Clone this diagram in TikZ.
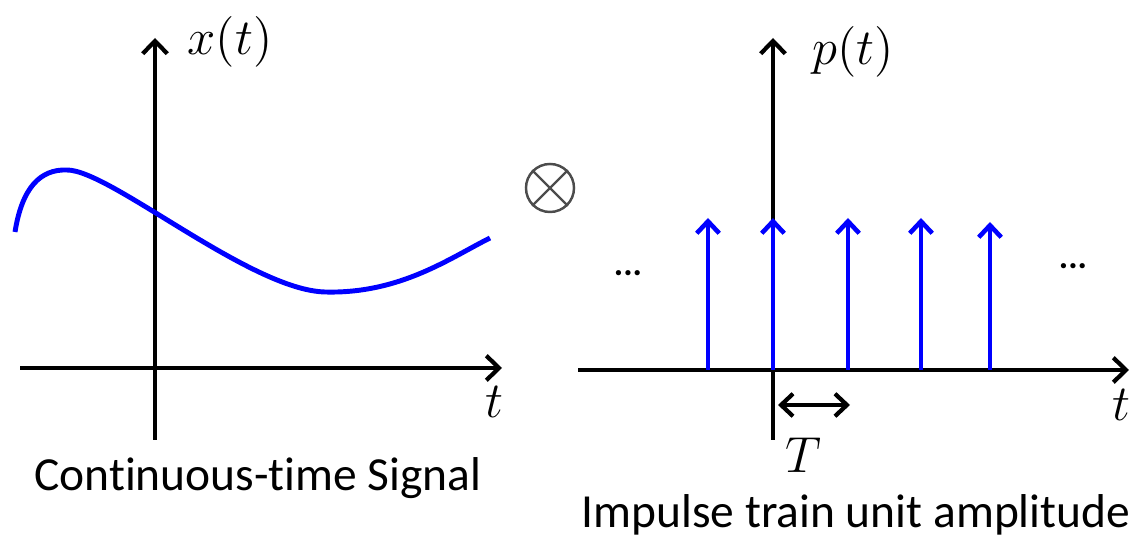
\documentclass[tikz,border=0pt]{standalone}
\usepackage{fontspec}
\setmainfont{Carlito}[Ligatures=CommonOff]
\usetikzlibrary{arrows.meta}

\begin{document}
\begin{tikzpicture}[x=0.01cm, y=-0.01cm,
  every node/.style={inner sep=0pt},
  axis/.style={line width=1.2pt, -{Straight Barb[length=3.6pt, width=7pt, line width=1.2pt]}},
  impulse/.style={blue, line width=1.3pt, -{Straight Barb[length=3.4pt, width=6.4pt, line width=1.3pt]}},
  mathlbl/.style={font=\fontsize{14.5}{16}\selectfont},
  captext/.style={font=\fontsize{13.5}{15}\selectfont},
  dotstxt/.style={font=\fontsize{10}{11}\selectfont\bfseries}]

\useasboundingbox (0,0) rectangle (1132,537);

% continuous-time signal
\coordinate (lx0) at (20,368);
\coordinate (lx1) at (502,368);
\coordinate (ly0) at (155,440);
\coordinate (ly1) at (155,38);
\draw[axis] (lx0) -- (lx1);
\draw[axis] (ly0) -- (ly1);
\draw[blue, line width=1.4pt] (15,232) .. controls (22,188) and (40,169) .. (67,170)
  .. controls (110,170) and (250,290) .. (325,292)
  .. controls (400,294) and (450,258) .. (490,238);
\node[mathlbl] (xlab) at (230,42) {$x(t)$};
\node[mathlbl] (tlab1) at (494,402) {$t$};
\node[captext] (cap1) at (258,478) {Continuous-time Signal};

% multiplier
\node[circle, draw=black!70, line width=0.7pt, minimum size=0.48cm] (mult) at (550,188) {};
\draw[black!70, line width=0.7pt] (mult.north west) -- (mult.south east)
  (mult.north east) -- (mult.south west);

% impulse train
\coordinate (rx0) at (578,370);
\coordinate (rx1) at (1129,370);
\coordinate (ry0) at (773,440);
\coordinate (ry1) at (773,38);
\draw[axis] (rx0) -- (rx1);
\draw[axis] (ry0) -- (ry1);
\foreach \px/\py in {708/218,773/218,848/218,921/218,990/222}
  \draw[impulse] (\px,370) -- (\px,\py);
\node[dotstxt] (dotl) at (628,273) {...};
\node[dotstxt] (dotr) at (1073,266) {...};
\node[mathlbl] (plab) at (853,52) {$p(t)$};
\node[mathlbl, anchor=east] (tlab2) at (1131,405) {$t$};
\coordinate (ta) at (778,405);
\coordinate (tb) at (850,405);
\draw[line width=1.2pt, {Straight Barb[length=3.4pt, width=6.4pt, line width=1.2pt]}-{Straight Barb[length=3.4pt, width=6.4pt, line width=1.2pt]}] (ta) -- (tb);
\node[mathlbl] (tper) at (803,455) {$T$};
\node[captext] (cap2) at (856,515) {Impulse train unit amplitude};

\end{tikzpicture}
\end{document}
